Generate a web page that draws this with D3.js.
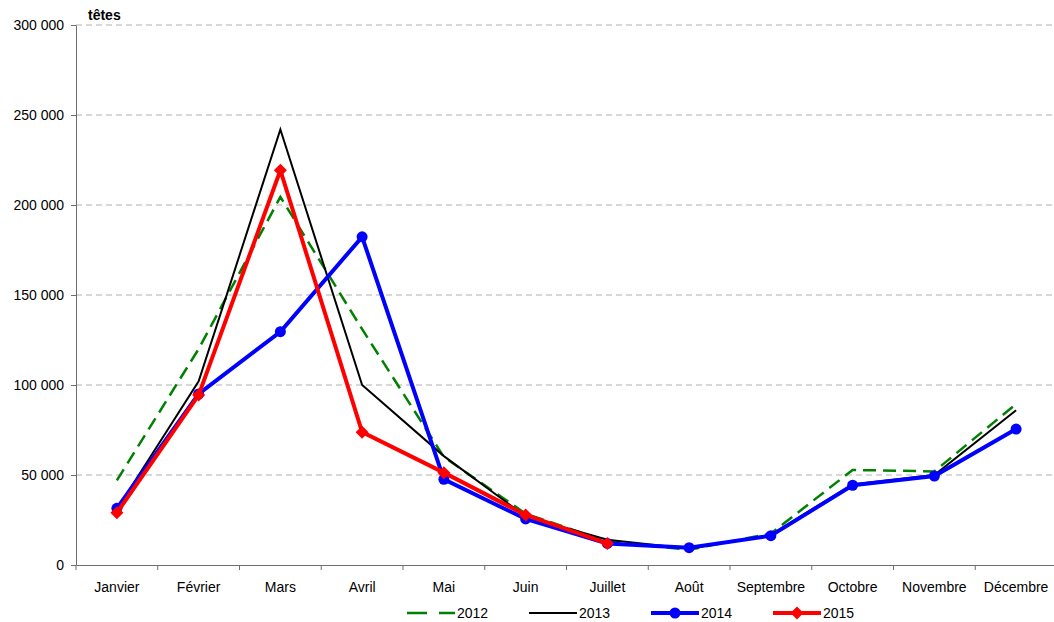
<!DOCTYPE html>
<html>
<head>
<meta charset="utf-8">
<script src="https://cdn.jsdelivr.net/npm/d3@7"></script>
<style>
  body { margin: 0; background: #fff; }
  svg { font-family: "Liberation Sans", Arial, sans-serif; }
</style>
</head>
<body>
<script>
// data (heads per month)
const months = ["Janvier", "Février", "Mars", "Avril", "Mai", "Juin", "Juillet", "Août", "Septembre", "Octobre", "Novembre", "Décembre"];
const v2012 = [47000, 120000, 204500, 131000, 60000, 28500, 13000, 8500, 17500, 52800, 52000, 89500];
const v2013 = [31000, 102000, 242000, 100000, 60500, 27000, 14000, 9000, 16800, 44800, 50000, 86000];
const v2014 = [31500, 95000, 129600, 182300, 47600, 25600, 12000, 9600, 16300, 44300, 49400, 75500];
const v2015 = [29000, 94400, 219300, 73800, 51300, 27800, 12000];
const yTicks = [0, 50000, 100000, 150000, 200000, 250000, 300000];

const w = 1054, h = 622;
const mLeft = 76, mRight = 1057, mTop = 25, mBottom = 565;

const svg = d3.select("body").append("svg")
  .attr("width", w)
  .attr("height", h);

const x = d3.scaleBand().domain(months).range([mLeft, mRight]);
const y = d3.scaleLinear().domain([0, 300000]).range([mBottom, mTop]);

const fmt = d => d3.format(",")(d).replace(/,/g, " ");

// grid
svg.append("g")
  .selectAll("line")
  .data(yTicks.filter(d => d > 0))
  .enter().append("line")
  .attr("x1", mLeft).attr("x2", w)
  .attr("y1", d => y(d)).attr("y2", d => y(d))
  .attr("stroke", "#b0b0b0")
  .attr("stroke-dasharray", "6,4");

// y axis
const yAxis = svg.append("g")
  .attr("transform", "translate(" + mLeft + ",0)")
  .call(d3.axisLeft(y).tickValues(yTicks).tickFormat(fmt).tickSizeInner(5).tickSizeOuter(0));
yAxis.attr("font-family", null).attr("font-size", 14);
yAxis.select(".domain").attr("stroke", "#6e6e6e");
yAxis.selectAll(".tick line").attr("stroke", "#6e6e6e");
yAxis.selectAll("text").attr("fill", "#000").attr("x", -12);

// x axis, ticks at category boundaries
const xAxis = svg.append("g")
  .attr("transform", "translate(0," + mBottom + ")")
  .call(d3.axisBottom(x).tickSize(0).tickSizeOuter(0));
xAxis.attr("font-family", null).attr("font-size", 14);
xAxis.select(".domain").attr("stroke", "#6e6e6e");
xAxis.selectAll("text").attr("fill", "#000").attr("y", 27).attr("dy", 0);
xAxis.selectAll(".bound")
  .data(months)
  .enter().append("line")
  .attr("class", "bound")
  .attr("x1", d => x(d)).attr("x2", d => x(d))
  .attr("y1", 0).attr("y2", 5)
  .attr("stroke", "#6e6e6e");

svg.append("text")
  .attr("x", 88).attr("y", 20)
  .attr("font-size", 14).attr("font-weight", "bold")
  .text("têtes");

const line = d3.line()
  .x((d, i) => x(months[i]) + x.bandwidth() / 2)
  .y(d => y(d));

const series = [
  { name: "2012", values: v2012, color: "#008000", width: 2.5, dash: "13,7", marker: null },
  { name: "2013", values: v2013, color: "#000000", width: 2, dash: null, marker: null },
  { name: "2014", values: v2014, color: "#0000ff", width: 4, dash: null, marker: "circle" },
  { name: "2015", values: v2015, color: "#ff0000", width: 4, dash: null, marker: "diamond" }
];

const diamond = d3.symbol().type(d3.symbolSquare).size(85);

series.forEach(s => {
  svg.append("path")
    .datum(s.values)
    .attr("d", line)
    .attr("fill", "none")
    .attr("stroke", s.color)
    .attr("stroke-width", s.width)
    .attr("stroke-dasharray", s.dash)
    .attr("stroke-linejoin", "miter");

  if (s.marker === "circle") {
    svg.append("g").selectAll("circle")
      .data(s.values)
      .enter().append("circle")
      .attr("cx", (d, i) => x(months[i]) + x.bandwidth() / 2)
      .attr("cy", d => y(d))
      .attr("r", 5.5)
      .attr("fill", s.color);
  } else if (s.marker === "diamond") {
    svg.append("g").selectAll("path")
      .data(s.values)
      .enter().append("path")
      .attr("d", diamond)
      .attr("transform", (d, i) => "translate(" + (x(months[i]) + x.bandwidth() / 2) + "," + y(d) + ") rotate(45)")
      .attr("fill", s.color);
  }
});

// legend
const legX = [407, 529, 651, 773];
const legend = svg.append("g");
series.forEach((s, i) => {
  const g = legend.append("g").attr("transform", "translate(" + legX[i] + ",613)");
  g.append("line")
    .attr("x1", 0).attr("x2", 48)
    .attr("y1", 0).attr("y2", 0)
    .attr("stroke", s.color)
    .attr("stroke-width", s.width)
    .attr("stroke-dasharray", s.dash ? "20,12" : null);
  if (s.marker === "circle") {
    g.append("circle").attr("cx", 24).attr("cy", 0).attr("r", 5.5).attr("fill", s.color);
  } else if (s.marker === "diamond") {
    g.append("path").attr("d", diamond).attr("transform", "translate(24,0) rotate(45)").attr("fill", s.color);
  }
  g.append("text")
    .attr("x", 50).attr("y", 5)
    .attr("font-size", 14)
    .text(s.name);
});
</script>
</body>
</html>
